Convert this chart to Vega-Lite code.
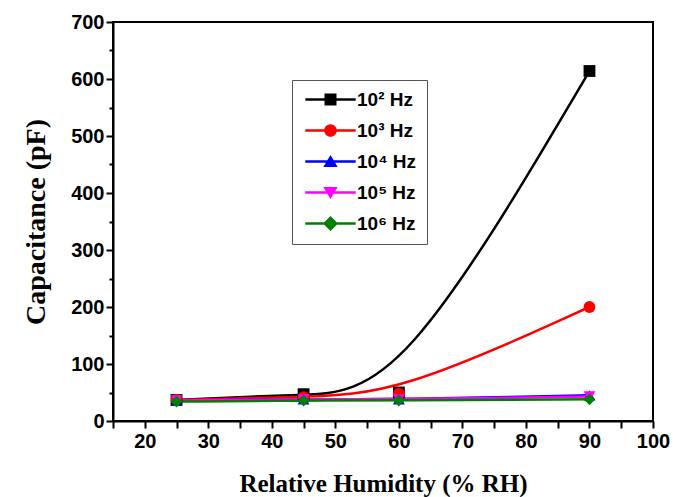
{
  "$schema": "https://vega.github.io/schema/vega-lite/v6.json",
  "autosize": "none",
  "width": 540,
  "height": 399,
  "padding": {"left": 113, "top": 22, "right": 20, "bottom": 76},
  "background": "white",
  "config": {
    "view": {"stroke": "black", "strokeWidth": 2},
    "axis": {"grid": false, "domainColor": "black", "domainWidth": 2, "tickColor": "black", "tickWidth": 2,
      "labelFont": "Liberation Sans", "labelFontWeight": "bold", "labelFontSize": 20, "labelColor": "black",
      "titleFont": "Liberation Serif", "titleFontWeight": "bold", "titleColor": "black"}
  },
  "data": {"values": [
    {"rh": 25, "cap": 37, "freq": "10² Hz"},
    {"rh": 45, "cap": 47, "freq": "10² Hz"},
    {"rh": 60, "cap": 50, "freq": "10² Hz"},
    {"rh": 90, "cap": 614, "freq": "10² Hz"},
    {"rh": 25, "cap": 37, "freq": "10³ Hz"},
    {"rh": 45, "cap": 42, "freq": "10³ Hz"},
    {"rh": 60, "cap": 48, "freq": "10³ Hz"},
    {"rh": 90, "cap": 200, "freq": "10³ Hz"},
    {"rh": 25, "cap": 36, "freq": "10⁴ Hz"},
    {"rh": 45, "cap": 38, "freq": "10⁴ Hz"},
    {"rh": 60, "cap": 38, "freq": "10⁴ Hz"},
    {"rh": 90, "cap": 45, "freq": "10⁴ Hz"},
    {"rh": 25, "cap": 36, "freq": "10⁵ Hz"},
    {"rh": 45, "cap": 38, "freq": "10⁵ Hz"},
    {"rh": 60, "cap": 38, "freq": "10⁵ Hz"},
    {"rh": 90, "cap": 43, "freq": "10⁵ Hz"},
    {"rh": 25, "cap": 34, "freq": "10⁶ Hz"},
    {"rh": 45, "cap": 36, "freq": "10⁶ Hz"},
    {"rh": 60, "cap": 36, "freq": "10⁶ Hz"},
    {"rh": 90, "cap": 38, "freq": "10⁶ Hz"}
  ]},
  "encoding": {
    "x": {"field": "rh", "type": "quantitative",
      "scale": {"domain": [15, 100], "nice": false, "zero": false},
      "axis": {"title": "Relative Humidity (% RH)", "titleFontSize": 25, "titlePadding": 20,
        "values": [15,20,25,30,35,40,45,50,55,60,65,70,75,80,85,90,95,100],
        "labelExpr": "datum.value % 10 === 0 ? datum.label : ''",
        "tickSize": 7, "labelPadding": 3, "labelFlush": false, "labelOverlap": false}},
    "y": {"field": "cap", "type": "quantitative",
      "scale": {"domain": [0, 700], "nice": false},
      "axis": {"title": "Capacitance (pF)", "titleFontSize": 28, "titlePadding": 20,
        "values": [0,50,100,150,200,250,300,350,400,450,500,550,600,650,700],
        "labelExpr": "datum.value % 100 === 0 ? datum.label : ''",
        "tickSize": {"condition": {"test": "datum.value % 100 === 0", "value": 7}, "value": 4},
        "labelPadding": 2, "labelFlush": false, "labelOverlap": false}}
  },
  "layer": [
    {
      "mark": {"type": "line", "interpolate": "basis", "strokeWidth": 2.5},
      "encoding": {
        "color": {"field": "freq", "type": "nominal", "legend": null,
          "scale": {"domain": ["10² Hz","10³ Hz","10⁴ Hz","10⁵ Hz","10⁶ Hz"], "range": ["#000000","#ff0000","#0000ff","#ff00ff","#008000"]}}
      }
    },
    {
      "mark": {"type": "point", "filled": true, "opacity": 1, "size": 140},
      "encoding": {
        "color": {"field": "freq", "type": "nominal", "legend": null,
          "scale": {"domain": ["10² Hz","10³ Hz","10⁴ Hz","10⁵ Hz","10⁶ Hz"], "range": ["#000000","#ff0000","#0000ff","#ff00ff","#008000"]}},
        "shape": {"field": "freq", "type": "nominal", "legend": null,
          "scale": {"domain": ["10² Hz","10³ Hz","10⁴ Hz","10⁵ Hz","10⁶ Hz"], "range": ["square","circle","triangle-up","triangle-down","diamond"]}}
      }
    },
    {
      "transform": [{"filter": "false"}],
      "mark": {"type": "point", "filled": true, "opacity": 1},
      "encoding": {
        "color": {"field": "freq", "type": "nominal",
          "scale": {"domain": ["10² Hz","10³ Hz","10⁴ Hz","10⁵ Hz","10⁶ Hz"], "range": ["#000000","#ff0000","#0000ff","#ff00ff","#008000"]},
          "legend": {"title": null, "orient": "none", "legendX": 179, "legendY": 58, "padding": 10,
            "strokeColor": "#555", "fillColor": "white", "symbolSize": 144, "symbolOffset": 19, "labelOffset": 17,
            "rowPadding": 11, "labelFont": "Liberation Sans", "labelFontWeight": "bold", "labelFontSize": 19, "labelColor": "black", "symbolOpacity": 1, "symbolStrokeWidth": 0}},
        "shape": {"field": "freq", "type": "nominal",
          "scale": {"domain": ["10² Hz","10³ Hz","10⁴ Hz","10⁵ Hz","10⁶ Hz"], "range": [
            "M-4.2,-0.2H4.2V0.2H-4.2Z M-1,-1H1V1H-1Z",
            "M-4.2,-0.2H4.2V0.2H-4.2Z M-1.05,0A1.05,1.05 0 1,1 1.05,0A1.05,1.05 0 1,1 -1.05,0Z",
            "M-4.2,-0.2H4.2V0.2H-4.2Z M0,-1.1L1.2,0.9H-1.2Z",
            "M-4.2,-0.2H4.2V0.2H-4.2Z M-1.2,-0.9H1.2L0,1.1Z",
            "M-4.2,-0.2H4.2V0.2H-4.2Z M0,-1.25L1.25,0L0,1.25L-1.25,0Z"]},
          "legend": {"title": null, "orient": "none", "legendX": 179, "legendY": 58, "padding": 10,
            "strokeColor": "#555", "fillColor": "white", "symbolSize": 144, "symbolOffset": 19, "labelOffset": 17,
            "rowPadding": 11, "labelFont": "Liberation Sans", "labelFontWeight": "bold", "labelFontSize": 19, "labelColor": "black", "symbolOpacity": 1, "symbolStrokeWidth": 0}}
      }
    }
  ],
  "resolve": {"scale": {"color": "independent", "shape": "independent"}}
}
